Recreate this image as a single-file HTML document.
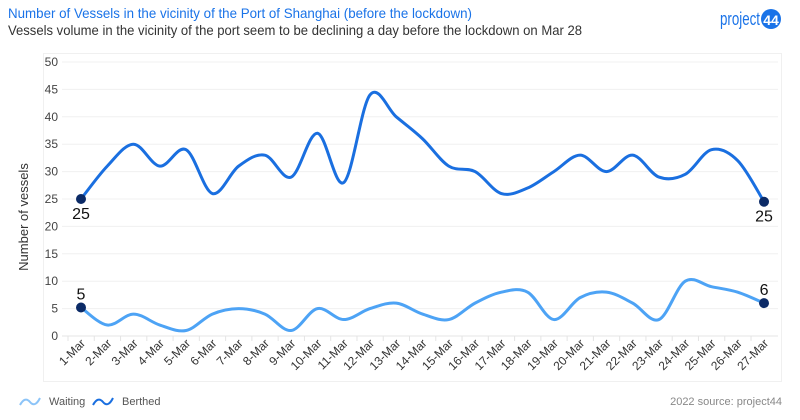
<!DOCTYPE html>
<html><head><meta charset="utf-8"><style>
body{margin:0;background:#fff;width:800px;height:415px;overflow:hidden;font-family:"Liberation Sans",sans-serif}
</style></head><body>
<svg id="s" width="800" height="415" xmlns="http://www.w3.org/2000/svg" font-family="Liberation Sans, sans-serif">
<text x="8" y="18" font-size="14" fill="#1a73e8" textLength="464" lengthAdjust="spacingAndGlyphs">Number of Vessels in the vicinity of the Port of Shanghai (before the lockdown)</text>
<text x="8" y="35" font-size="14" fill="#333" textLength="574" lengthAdjust="spacingAndGlyphs">Vessels volume in the vicinity of the port seem to be declining a day before the lockdown on Mar 28</text>
<text x="720" y="25" font-size="18" fill="#1a73e8" textLength="40" lengthAdjust="spacingAndGlyphs">project</text>
<circle cx="771" cy="19" r="10" fill="#1a73e8"/>
<text x="771" y="25" font-size="14" font-weight="bold" fill="#fff" text-anchor="middle">44</text>
<rect x="43.5" y="53.5" width="738" height="328" fill="none" stroke="#f0f0f0"/>
<g id="grid"></g>
<text transform="translate(28,217) rotate(-90)" font-size="13" fill="#333" text-anchor="middle">Number of vessels</text>
<path id="b" fill="none" stroke="#1a6fe0" stroke-width="3"/>
<path id="w" fill="none" stroke="#4da3f5" stroke-width="3"/>
<g id="pts"></g>
<path d="M20 405 q5 -9 10 -3 t10 -4" fill="none" stroke="#8cc4f8" stroke-width="2"/>
<text x="49" y="405" font-size="11" fill="#555">Waiting</text>
<path d="M93 405 q5 -9 10 -3 t10 -4" fill="none" stroke="#1a6fe0" stroke-width="2"/>
<text x="122" y="405" font-size="11" fill="#555">Berthed</text>
<text x="782" y="405" font-size="11" fill="#888" text-anchor="end">2022 source: project44</text>
</svg>
<script>
var B=[25,31,35,31,34,26,31,33,29,37,28,44,40,36,31,30,26,27,30,33,30,33,29,29.5,34,32,24.5];
var W=[5.2,2,4,2,1,4,5,4,1,5,3,5,6,4,3,6,8,8,3,7,8,6,3,10,9,8,6];
function X(i){return 81+i*26.27}function Y(v){return 336-v*5.48}
var g=document.getElementById('grid'),h='';
for(var v=0;v<=50;v+=5){var y=Y(v);h+='<line x1="62" x2="778" y1="'+y+'" y2="'+y+'" stroke="'+(v?'#f0f0f0':'#e4e4e4')+'"/><text x="58" y="'+(y+4)+'" font-size="12" fill="#444" text-anchor="end">'+v+'</text>';}
for(var i=0;i<27;i++){var x=X(i);h+='<line x1="'+(x-13)+'" x2="'+(x-13)+'" y1="336" y2="341" stroke="#e4e4e4"/><text transform="translate('+(x+5)+',344) rotate(-45)" font-size="12" fill="#333" text-anchor="end">'+(i+1)+'-Mar</text>';}
g.innerHTML=h;
function path(a){var p=a.map(function(v,i){return[X(i),Y(v)]});var d='M'+p[0][0]+' '+p[0][1];
for(var i=0;i<p.length-1;i++){var p0=p[i-1]||p[i],p1=p[i],p2=p[i+1],p3=p[i+2]||p2,t=6;
d+=' C'+(p1[0]+(p2[0]-p0[0])/t)+' '+(p1[1]+(p2[1]-p0[1])/t)+' '+(p2[0]-(p3[0]-p1[0])/t)+' '+(p2[1]-(p3[1]-p1[1])/t)+' '+p2[0]+' '+p2[1];}return d;}
document.getElementById('b').setAttribute('d',path(B));
document.getElementById('w').setAttribute('d',path(W));
var q='';[[0,B[0],'25',1],[26,B[26],'25',1],[0,W[0],'5',-1],[26,W[26],'6',-1]].forEach(function(a){var x=X(a[0]),y=Y(a[1]);
q+='<circle cx="'+x+'" cy="'+y+'" r="5" fill="#0b2a66"/><text x="'+x+'" y="'+(a[3]>0?y+20:y-8)+'" font-size="16" fill="#111" text-anchor="middle">'+a[2]+'</text>';});
document.getElementById('pts').innerHTML=q;
</script>
</body></html>
